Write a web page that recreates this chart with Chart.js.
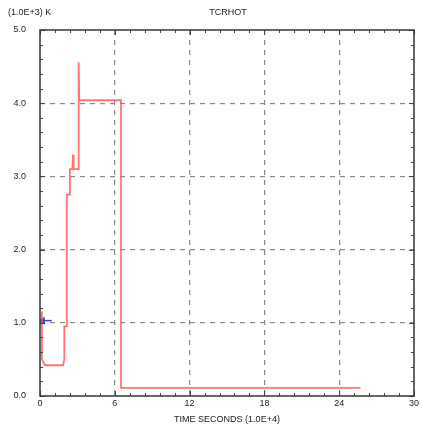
<!DOCTYPE html>
<html>
<head>
<meta charset="utf-8">
<script src="https://cdn.jsdelivr.net/npm/chart.js@4"></script>
<style>
  html, body { margin: 0; padding: 0; background: #fff; }
  #wrap { width: 422px; height: 434px; }
</style>
</head>
<body>
<div id="wrap"><canvas id="grafico" width="422" height="434"></canvas></div>
<script>
// TCRHOT history, time in 1.0E+4 s, temperature in 1.0E+3 K
let tiempo = [0.15, 0.15, 0.4, 1.85, 1.95, 1.95, 2.15, 2.15, 2.15, 2.4, 2.4, 2.6, 2.65, 2.7, 3.1, 3.1, 3.15, 6.5, 6.5, 25.7];
let tcrhot = [1.15, 0.5, 0.42, 0.42, 0.5, 0.95, 0.95, 2.6, 2.75, 2.75, 3.1, 3.1, 3.3, 3.1, 3.1, 4.56, 4.04, 4.04, 0.11, 0.11];
let tiempoAzul = [0.2, 0.95];
let valorAzul = [1.03, 1.03];
let ticksX = [0, 6, 12, 18, 24, 30];
let ticksY = [0, 1, 2, 3, 4, 5];
let menorX = 1.2;
let menorY = 0.2;

function puntos(xs, ys) {
  return xs.map((x, i) => ({ x: x, y: ys[i] }));
}

// inward tick marks on all four sides + frame + header texts
const marco = {
  id: "marco",
  afterDraw(chart) {
    const c = chart.ctx;
    const a = chart.chartArea;
    const sx = chart.scales.x;
    const sy = chart.scales.y;
    c.save();
    c.strokeStyle = "#444";
    c.lineWidth = 1;
    for (let v = 0; v <= 30.001; v += menorX) {
      const px = Math.round(sx.getPixelForValue(v)) + 0.5;
      const major = Math.abs(v / 6 - Math.round(v / 6)) < 1e-6;
      const len = major ? 5 : 3;
      c.beginPath();
      c.moveTo(px, a.bottom); c.lineTo(px, a.bottom - len);
      c.moveTo(px, a.top); c.lineTo(px, a.top + len);
      c.stroke();
    }
    for (let v = 0; v <= 5.001; v += menorY) {
      const py = Math.round(sy.getPixelForValue(v)) + 0.5;
      const major = Math.abs(v - Math.round(v)) < 1e-6;
      const len = major ? 5 : 3;
      c.beginPath();
      c.moveTo(a.left, py); c.lineTo(a.left + len, py);
      c.moveTo(a.right, py); c.lineTo(a.right - len, py);
      c.stroke();
    }
    c.strokeStyle = "#333";
    c.lineWidth = 1.5;
    c.strokeRect(a.left, a.top, a.right - a.left, a.bottom - a.top);
    c.fillStyle = "#222";
    c.font = "9px 'Liberation Sans', Arial, sans-serif";
    c.textBaseline = "middle";
    c.textAlign = "left";
    c.fillText("(1.0E+3) K", 8, 13);
    c.textAlign = "center";
    c.fillText("TCRHOT", 228, 13);
    c.fillText("TIME SECONDS (1.0E+4)", (a.left + a.right) / 2, 420);
    c.restore();
  },
};

let ctx = document.getElementById("grafico").getContext("2d");
let grafico = new Chart(ctx, {
  type: "line",
  data: {
    datasets: [
      {
        label: "TCRHOT",
        data: puntos(tiempo, tcrhot),
        borderColor: "rgba(255, 90, 90, 0.85)",
        borderWidth: 1.8,
        pointRadius: 0,
        tension: 0,
      },
      {
        label: "ref",
        data: puntos(tiempoAzul, valorAzul),
        borderColor: "#3344dd",
        backgroundColor: "#3344dd",
        borderWidth: 1.5,
        pointStyle: "triangle",
        pointRotation: -90,
        pointRadius: [3, 0],
        tension: 0,
      },
    ],
  },
  options: {
    responsive: false,
    animation: false,
    layout: { padding: { top: 30, right: 8, left: 0, bottom: 0 } },
    plugins: { legend: { display: false }, tooltip: { enabled: false } },
    scales: {
      x: {
        type: "linear",
        min: 0,
        max: 30,
        afterBuildTicks: (s) => { s.ticks = ticksX.map((v) => ({ value: v })); },
        afterFit: (s) => { s.height = 38; },
        ticks: {
          maxRotation: 0,
          color: "#222",
          padding: 2,
          font: { size: 9, family: "'Liberation Sans', Arial, sans-serif" },
          callback: (v) => String(v),
        },
        grid: {
          color: (c) => (c.tick && (c.tick.value === 0 || c.tick.value === 30) ? "rgba(0,0,0,0)" : "#888"),
          lineWidth: 1.2,
          drawTicks: false,
        },
        border: { display: false, dash: [5, 5] },
      },
      y: {
        min: 0,
        max: 5,
        afterBuildTicks: (s) => { s.ticks = ticksY.map((v) => ({ value: v })); },
        afterFit: (s) => { s.width = 40; },
        ticks: {
          color: "#222",
          padding: 14,
          font: { size: 9, family: "'Liberation Sans', Arial, sans-serif" },
          callback: (v) => v.toFixed(1),
        },
        grid: {
          color: (c) => (c.tick && (c.tick.value === 0 || c.tick.value === 5) ? "rgba(0,0,0,0)" : "#888"),
          lineWidth: 1.2,
          drawTicks: false,
        },
        border: { display: false, dash: [5, 5] },
      },
    },
  },
  plugins: [marco],
});
</script>
</body>
</html>
